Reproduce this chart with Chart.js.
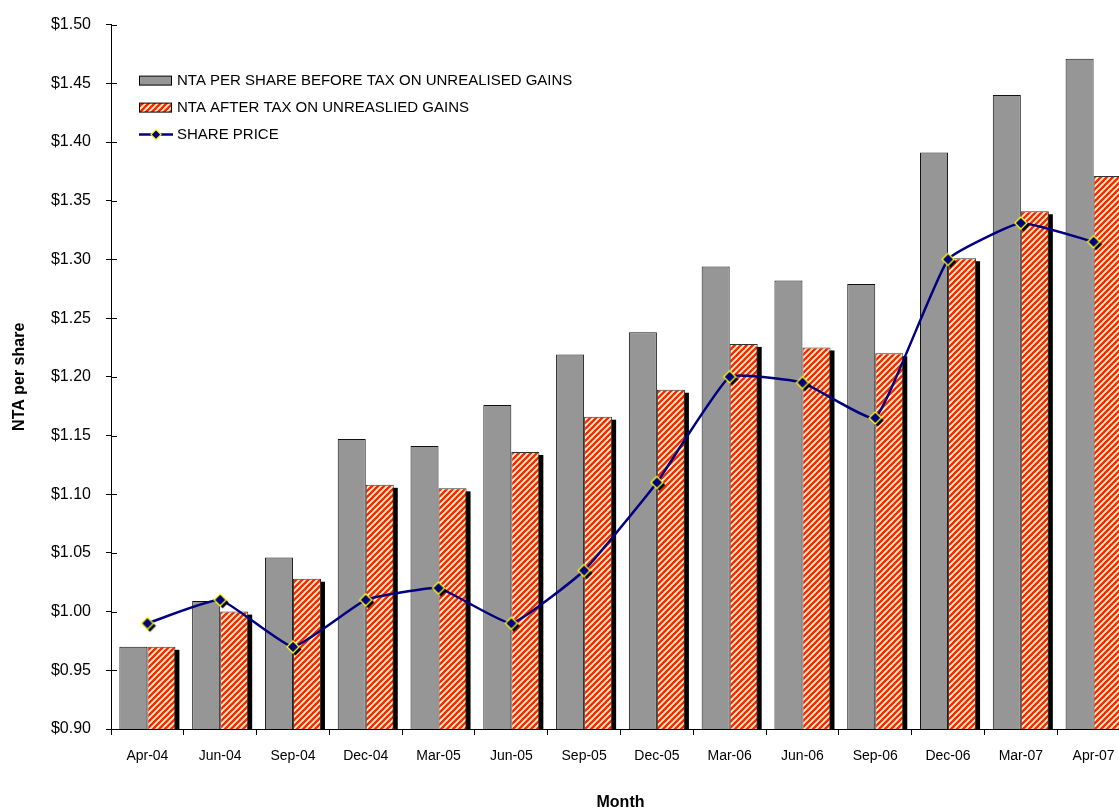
<!DOCTYPE html>
<html>
<head>
<meta charset="utf-8">
<title>NTA per share</title>
<script src="https://cdn.jsdelivr.net/npm/chart.js@4.4.1/dist/chart.umd.min.js"></script>
<style>
    html, body { margin: 0; padding: 0; background: #fff; overflow: hidden; }
    #wrap { width: 1140px; height: 811px; }
</style>
</head>
<body>
<div id="wrap"><canvas id="ntaChart" width="1140" height="811"></canvas></div>
<script>
// Chart data
const months = ['Apr-04', 'Jun-04', 'Sep-04', 'Dec-04', 'Mar-05', 'Jun-05', 'Sep-05',
    'Dec-05', 'Mar-06', 'Jun-06', 'Sep-06', 'Dec-06', 'Mar-07', 'Apr-07'];
const ntaBeforeTax = [0.970, 1.009, 1.046, 1.147, 1.141, 1.176, 1.219, 1.238, 1.294, 1.282, 1.279, 1.391, 1.440, 1.471];
const ntaAfterTax = [0.970, 1.000, 1.028, 1.108, 1.105, 1.136, 1.166, 1.189, 1.228, 1.225, 1.220, 1.301, 1.341, 1.371];
const sharePrice = [0.990, 1.010, 0.970, 1.010, 1.020, 0.990, 1.035, 1.110, 1.200, 1.195, 1.165, 1.300, 1.331, 1.315];
const seriesNames = ['NTA PER SHARE BEFORE TAX ON UNREALISED GAINS', 'NTA AFTER TAX ON UNREASLIED GAINS', 'SHARE PRICE'];
const yMin = 0.90, yMax = 1.50, yStep = 0.05;

const FONT = "'Liberation Sans', Arial, sans-serif";
const GREY = '#969696';
const NAVY = '#000080';

// Red / cream diagonal hatch
function makeHatch() {
    const c = document.createElement('canvas');
    c.width = 6; c.height = 6;
    const g = c.getContext('2d');
    g.fillStyle = '#FFF4C4';
    g.fillRect(0, 0, 6, 6);
    g.strokeStyle = '#FF2200';
    g.lineWidth = 2.3;
    [0, 6, 12].forEach(k => {
        g.beginPath();
        g.moveTo(k - 7, 7);
        g.lineTo(k + 1, -1);
        g.stroke();
    });
    return g.createPattern(c, 'repeat');
}

function diamond(g, cx, cy, r) {
    g.beginPath();
    g.moveTo(cx, cy - r);
    g.lineTo(cx + r, cy);
    g.lineTo(cx, cy + r);
    g.lineTo(cx - r, cy);
    g.closePath();
}

// Marker with its drop shadow baked in
function makeMarker() {
    const c = document.createElement('canvas');
    c.width = 24; c.height = 24;
    const g = c.getContext('2d');
    diamond(g, 14.5, 14.5, 6);
    g.fillStyle = '#000';
    g.fill();
    diamond(g, 12, 12, 6);
    g.fillStyle = NAVY;
    g.fill();
    g.strokeStyle = '#FFFF00';
    g.lineWidth = 1.3;
    g.stroke();
    return c;
}

const hatch = makeHatch();

// Black drop shadow behind the hatched bars, taken from the bar elements
const barShadow = {
    id: 'barShadow',
    beforeDatasetDraw(chart, args) {
        if (args.index !== 2) return;
        const ctx = chart.ctx;
        const area = chart.chartArea;
        ctx.save();
        ctx.beginPath();
        ctx.rect(area.left, area.top, area.right - area.left, area.bottom - area.top);
        ctx.clip();
        ctx.fillStyle = '#000';
        args.meta.data.forEach(bar => {
            const p = bar.getProps(['x', 'y', 'base', 'width'], true);
            ctx.fillRect(p.x - p.width / 2 + 4, p.y + 3, p.width, p.base - p.y);
        });
        ctx.restore();
    }
};

// Tick marks that cross the value axis
const innerTicks = {
    id: 'innerTicks',
    afterDraw(chart) {
        const ctx = chart.ctx;
        const y = chart.scales.y;
        const left = chart.chartArea.left;
        ctx.save();
        ctx.strokeStyle = '#000';
        ctx.lineWidth = 1;
        y.ticks.forEach((t, i) => {
            const py = Math.round(y.getPixelForTick(i)) + 0.5;
            ctx.beginPath();
            ctx.moveTo(left, py);
            ctx.lineTo(left + 6, py);
            ctx.stroke();
        });
        ctx.restore();
    }
};

// Legend inside the plot, top left
const insideLegend = {
    id: 'insideLegend',
    afterDraw(chart) {
        const ctx = chart.ctx;
        const x0 = chart.chartArea.left + 28;
        const y0 = chart.chartArea.top + 56;
        const rowGap = 27;
        ctx.save();
        ctx.font = '15px ' + FONT;
        ctx.textBaseline = 'middle';

        // row 1: grey box
        ctx.fillStyle = GREY;
        ctx.fillRect(x0, y0 - 4.5, 33, 9);
        ctx.strokeStyle = '#000';
        ctx.lineWidth = 1;
        ctx.strokeRect(x0 + 0.5, y0 - 4.5, 32, 9);

        // row 2: hatch box
        const y1 = y0 + rowGap;
        ctx.fillStyle = hatch;
        ctx.fillRect(x0, y1 - 4.5, 33, 9);
        ctx.strokeRect(x0 + 0.5, y1 - 4.5, 32, 9);

        // row 3: line with marker
        const y2 = y0 + rowGap * 2;
        ctx.strokeStyle = NAVY;
        ctx.lineWidth = 2.5;
        ctx.beginPath();
        ctx.moveTo(x0, y2);
        ctx.lineTo(x0 + 34, y2);
        ctx.stroke();
        diamond(ctx, x0 + 17, y2, 5);
        ctx.fillStyle = NAVY;
        ctx.fill();
        ctx.strokeStyle = '#FFFF00';
        ctx.lineWidth = 1.2;
        ctx.stroke();

        ctx.fillStyle = '#000';
        seriesNames.forEach((name, i) => {
            ctx.fillText(name, x0 + 38, y0 + rowGap * i);
        });
        ctx.restore();
    }
};

Chart.defaults.font.family = FONT;
Chart.defaults.color = '#000';

const ctx = document.getElementById('ntaChart').getContext('2d');
new Chart(ctx, {
    data: {
        labels: months,
        datasets: [
            {
                type: 'line',
                label: seriesNames[2],
                data: sharePrice,
                borderColor: NAVY,
                borderWidth: 2.5,
                tension: 0.12,
                pointStyle: makeMarker(),
                pointRadius: 5,
                fill: false
            },
            {
                type: 'bar',
                label: seriesNames[0],
                data: ntaBeforeTax,
                backgroundColor: GREY,
                borderColor: '#111',
                borderWidth: 1,
                borderSkipped: 'bottom',
                categoryPercentage: 0.77,
                barPercentage: 1.0
            },
            {
                type: 'bar',
                label: seriesNames[1],
                data: ntaAfterTax,
                backgroundColor: hatch,
                borderColor: '#333',
                borderWidth: 1,
                borderSkipped: 'bottom',
                categoryPercentage: 0.77,
                barPercentage: 1.0
            }
        ]
    },
    options: {
        responsive: false,
        animation: false,
        layout: { padding: { top: 20, right: 10, left: 0, bottom: 0 } },
        plugins: {
            legend: { display: false },
            tooltip: { enabled: false }
        },
        scales: {
            x: {
                offset: true,
                grid: { offset: true, drawOnChartArea: false, tickLength: 6, color: '#000' },
                border: { color: '#000', width: 1 },
                ticks: { font: { size: 14 }, padding: 13, maxRotation: 0, autoSkip: false },
                title: { display: true, text: 'Month', font: { size: 16, weight: 'bold', lineHeight: 1 }, padding: 0 },
                afterFit(scale) { scale.height = 82; }
            },
            y: {
                min: yMin,
                max: yMax,
                grid: { drawOnChartArea: false, tickLength: 5, color: '#000' },
                border: { color: '#000', width: 1 },
                ticks: {
                    stepSize: yStep,
                    maxTicksLimit: 20,
                    padding: 15,
                    font: { size: 16 },
                    callback: value => '$' + Number(value).toFixed(2)
                },
                title: { display: true, text: 'NTA per share', font: { size: 16, weight: 'bold' }, padding: { top: 10, bottom: 0 } },
                afterFit(scale) { scale.width = 111; }
            }
        }
    },
    plugins: [barShadow, innerTicks, insideLegend]
});
</script>
</body>
</html>
